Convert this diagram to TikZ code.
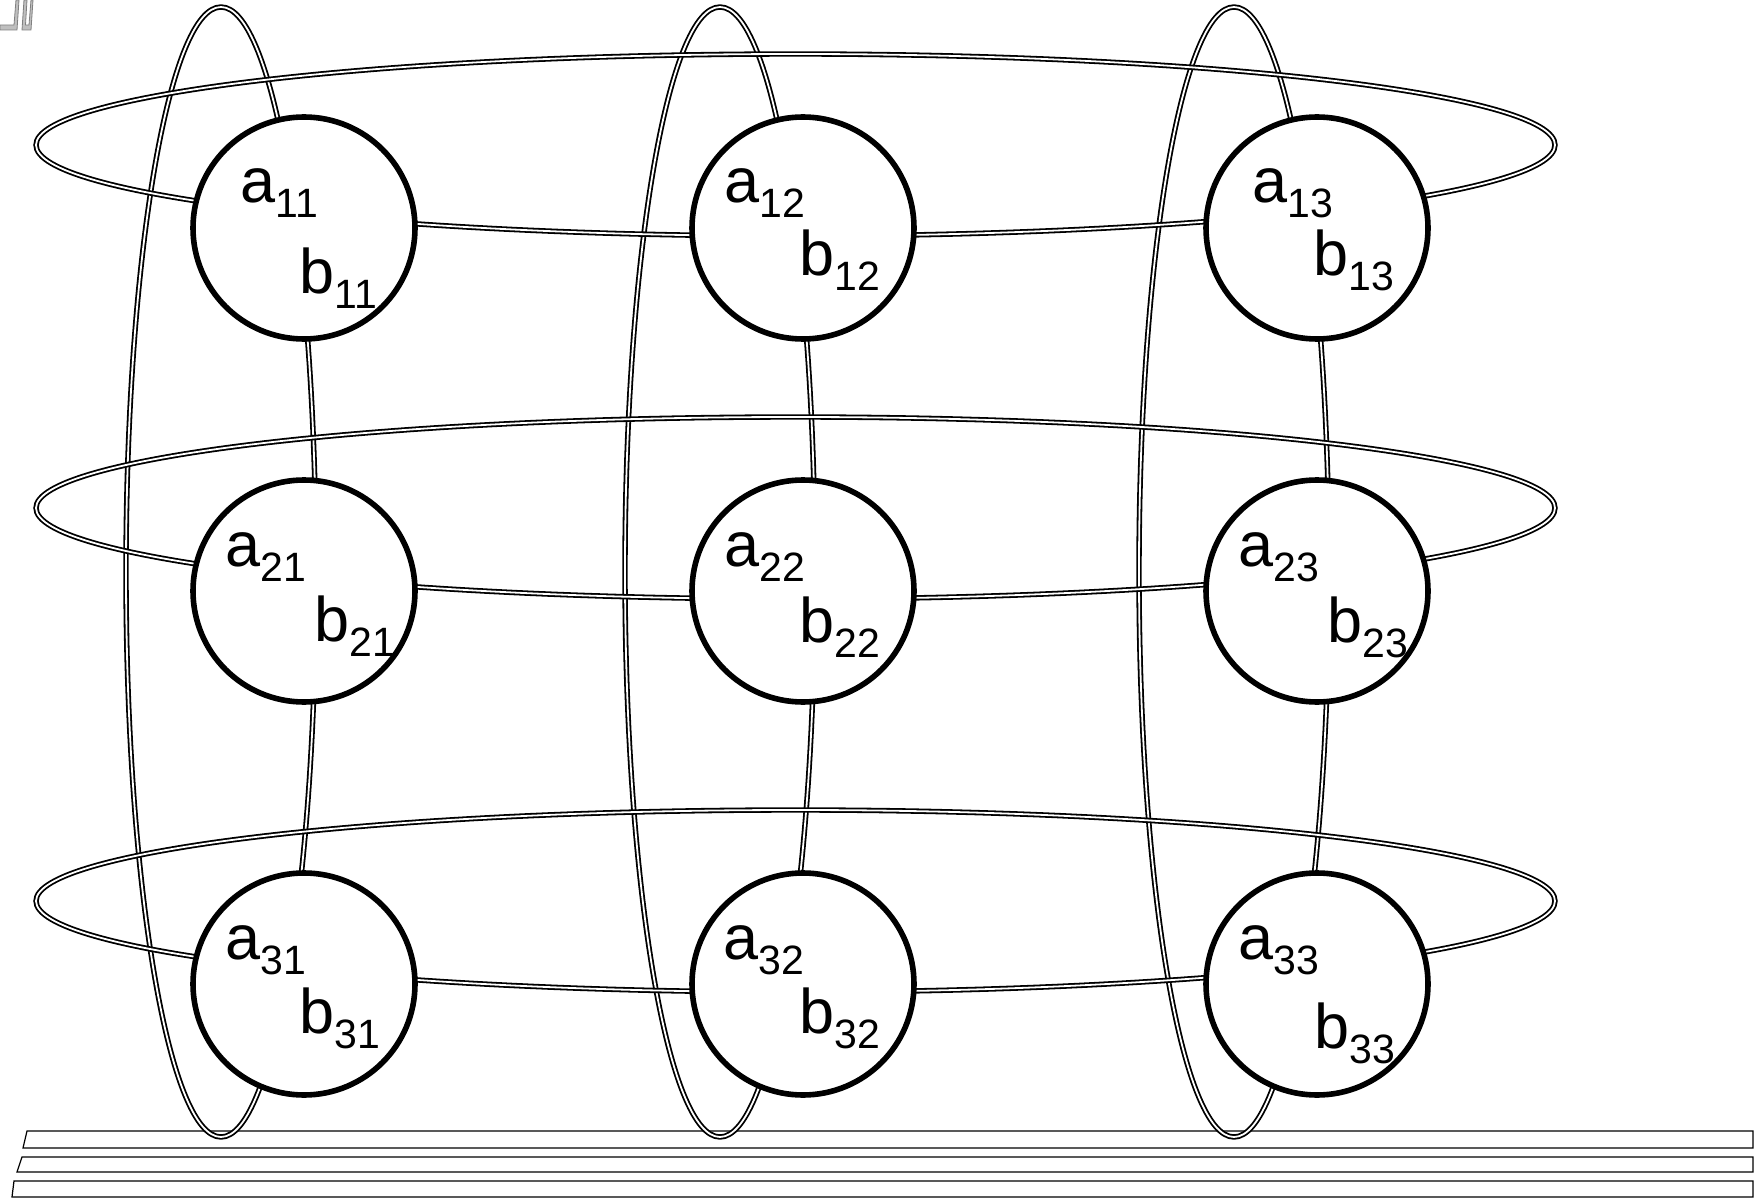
\documentclass[tikz,border=0pt]{standalone}
\usepackage{fontspec}
\setmainfont{Liberation Sans}
\usetikzlibrary{calc,backgrounds}
\newcommand{\subidx}[1]{\raisebox{-7.5pt}{\fontsize{20.5pt}{20.5pt}\selectfont #1}}
\tikzset{
  site/.style={circle, draw, line width=2.8pt, fill=white, minimum size=111pt, inner sep=0pt},
  lab/.style={inner sep=0pt, anchor=base west, font=\fontsize{31.5pt}{31.5pt}\selectfont},
  ring/.style={double, line width=0.9pt, double distance=0.9pt},
  rail/.style={line width=0.6pt},
}
\begin{document}
\begin{tikzpicture}[x=0.5pt, y=-0.5pt]
  \useasboundingbox (0,0) rectangle (1762,1198);
  % sites
  \foreach \r/\y in {1/228,2/591,3/984}
    \foreach \c/\x in {1/304,2/803,3/1317}
      \node[site] (n\r\c) at (\x,\y) {};
  % labels a_rc, b_rc
  \foreach \r/\c/\ax/\bx/\by in {1/1/-64/-5/65, 1/2/-79/-4/48, 1/3/-65/-4/48,
                                 2/1/-79/10/50, 2/2/-79/-4/51, 2/3/-79/10/51,
                                 3/1/-79/-5/49, 3/2/-80/-4/49, 3/3/-79/-3/64} {
    \node[lab] (a\r\c) at ($(n\r\c)+(\ax,-25)$) {a\subidx{\r\c}};
    \node[lab] (b\r\c) at ($(n\r\c)+(\bx,\by)$) {b\subidx{\r\c}};
  }
  \begin{scope}[on background layer]
    % rails
    \foreach \t/\h/\lt/\lb in {1131/17/27/23, 1157/15/22/17, 1181/16/14/12}
      \draw[rail] (\lt,\t) -- (1753,\t) -- (1753,\t+\h) -- (\lb,\t+\h) -- cycle;
    % column rings
    \foreach \c in {1,2,3}
      \draw[ring] ($(n1\c)+(-83,344)$) ellipse [x radius=47.5pt, y radius=282.5pt];
    % row rings
    \foreach \r in {1,2,3}
      \draw[ring] ($(n\r2)+(-7.5,-83)$) ellipse [x radius=379.75pt, y radius=45.5pt];
  \end{scope}
  % corner mark
  \draw[gray, fill=gray!50, line width=0.4pt] (0,25) -- (14,25) -- (16,0) -- (19,0) -- (17,30) -- (0,30) -- cycle;
  \draw[gray, fill=gray!50, line width=0.4pt] (22,30) -- (24,0) -- (27,0) -- (25.5,25) -- (29,25) -- (31,0) -- (33,0) -- (31,30) -- cycle;
\end{tikzpicture}
\end{document}
